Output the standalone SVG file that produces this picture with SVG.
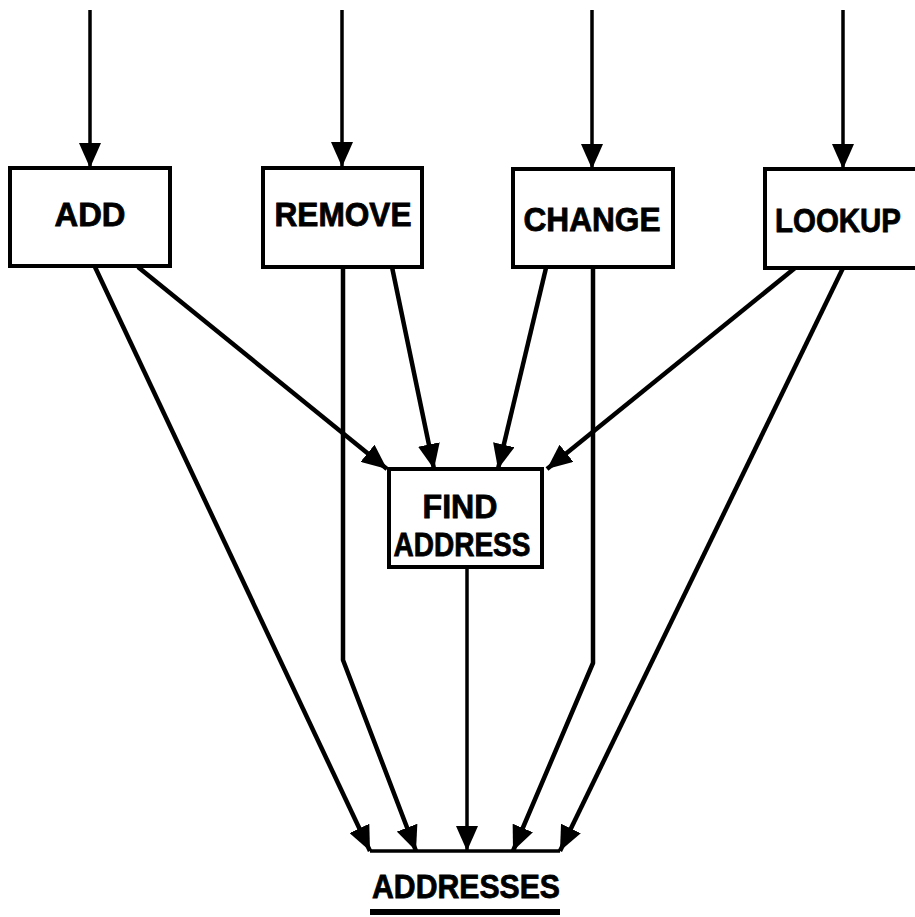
<svg xmlns="http://www.w3.org/2000/svg" width="915" height="917" viewBox="0 0 915 917">
<style>
.box{fill:#fff;stroke:#000;stroke-width:4}
.lbl{font-family:"Liberation Sans",Arial,sans-serif;font-weight:bold;font-size:33px;fill:#000;stroke:#000;stroke-width:0.8;text-anchor:middle}
.c{fill:none;stroke:#000;stroke-width:4.5;stroke-linejoin:round}
.v{fill:none;stroke:#000;stroke-width:3.5}
</style>
<defs>
<marker id="ah" markerUnits="userSpaceOnUse" markerWidth="25" markerHeight="22" refX="25" refY="11" orient="auto" viewBox="0 0 25 22">
<path d="M0,0 L25,11 L0,22 z" fill="#000"/>
</marker>
</defs>
<rect width="915" height="917" fill="#fff"/>
<g id="connectors">
<line class="v" x1="90" y1="10" x2="90" y2="168" marker-end="url(#ah)"/>
<line class="v" x1="342" y1="10" x2="342" y2="167" marker-end="url(#ah)"/>
<line class="v" x1="592" y1="10" x2="592" y2="169" marker-end="url(#ah)"/>
<line class="v" x1="843" y1="10" x2="843" y2="169" marker-end="url(#ah)"/>
<line class="c" x1="95" y1="267" x2="370" y2="851" marker-end="url(#ah)"/>
<line class="c" x1="138" y1="267" x2="387" y2="469" marker-end="url(#ah)"/>
<polyline class="c" points="343,267 343,660 416,851" marker-end="url(#ah)"/>
<line class="c" x1="392" y1="267" x2="434" y2="469" marker-end="url(#ah)"/>
<line class="c" x1="546" y1="268" x2="498" y2="469" marker-end="url(#ah)"/>
<polyline class="c" points="593,268 593,663 513,851" marker-end="url(#ah)"/>
<line class="c" x1="795" y1="268" x2="547" y2="469" marker-end="url(#ah)"/>
<line class="c" x1="843" y1="268" x2="560" y2="851" marker-end="url(#ah)"/>
<line class="v" x1="467" y1="567" x2="467" y2="851" marker-end="url(#ah)"/>
</g>
<g id="add">
<rect class="box" x="10" y="168" width="160" height="98"/>
<text class="lbl" x="90" y="226" textLength="71" lengthAdjust="spacingAndGlyphs">ADD</text>
</g>
<g id="remove">
<rect class="box" x="263" y="168" width="159" height="99"/>
<text class="lbl" x="343" y="226" textLength="137" lengthAdjust="spacingAndGlyphs">REMOVE</text>
</g>
<g id="change">
<rect class="box" x="513" y="169" width="160" height="98"/>
<text class="lbl" x="592" y="231" textLength="137" lengthAdjust="spacingAndGlyphs">CHANGE</text>
</g>
<g id="lookup">
<rect class="box" x="765" y="169" width="152" height="99"/>
<text class="lbl" x="838" y="232" textLength="126" lengthAdjust="spacingAndGlyphs">LOOKUP</text>
</g>
<g id="find-address">
<rect class="box" x="389" y="469" width="153" height="98"/>
<text class="lbl" x="460" y="518" font-size="34" textLength="75" lengthAdjust="spacingAndGlyphs">FIND</text>
<text class="lbl" x="462" y="556" font-size="37" textLength="137" lengthAdjust="spacingAndGlyphs">ADDRESS</text>
</g>
<g id="addresses">
<line x1="370" y1="851" x2="560" y2="851" stroke="#000" stroke-width="3.5"/>
<text class="lbl" x="466" y="898" font-size="33" textLength="188" lengthAdjust="spacingAndGlyphs">ADDRESSES</text>
<rect x="370" y="909" width="190" height="6" fill="#000"/>
</g>
</svg>
